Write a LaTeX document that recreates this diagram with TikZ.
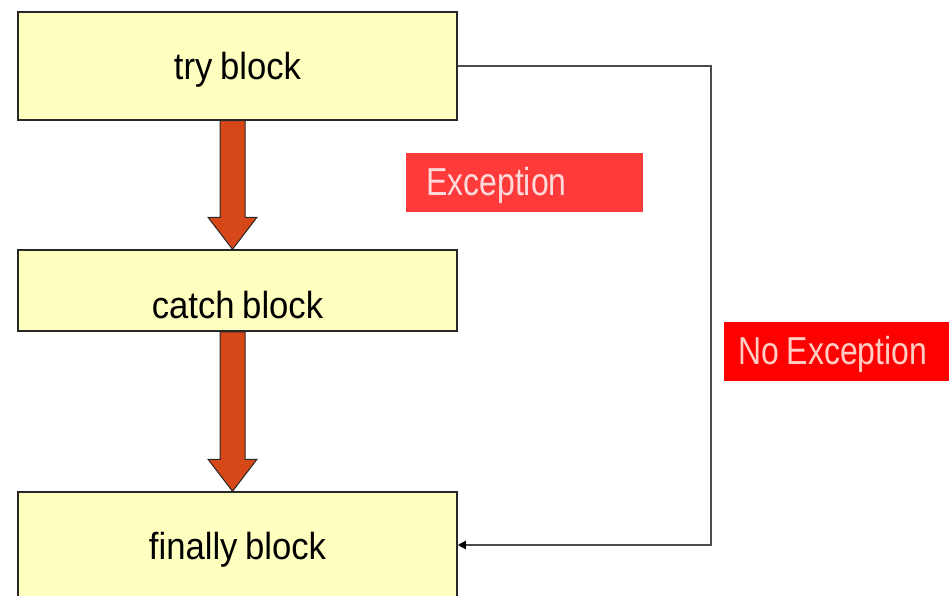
\documentclass[tikz,border=0pt]{standalone}
\usepackage{fontspec}
\setmainfont{Liberation Sans}
\newfontfamily\blockfont{Liberation Sans}[FakeStretch=0.92]
\newfontfamily\tagfont{Liberation Sans}[FakeStretch=0.82]
\usetikzlibrary{positioning,arrows.meta,calc}
\definecolor{BlockYellow}{RGB}{255,255,192}
\definecolor{BlockEdge}{RGB}{40,40,40}
\definecolor{ArrowRust}{RGB}{214,72,24}
\definecolor{FlowGray}{RGB}{75,75,75}
\definecolor{ExcRed}{RGB}{255,58,58}
\definecolor{NoExcRed}{RGB}{255,0,0}
\definecolor{ExcText}{RGB}{255,218,218}
\definecolor{NoExcText}{RGB}{255,205,195}
\newcommand{\blocktext}{\blockfont\fontsize{37.7}{40}\selectfont\spaceskip 0.2em\relax}
\newcommand{\tagtext}{\tagfont\fontsize{39}{42}\selectfont}
\tikzset{
  box/.style={draw=BlockEdge,fill=BlockYellow,line width=1.5pt,
    minimum width=439pt,inner sep=0pt,text height=28pt,text depth=0pt,
    font=\blocktext},
  fatarrow/.style={draw=BlockEdge,fill=ArrowRust,line width=1pt,line join=miter},
  flow/.style={-{Triangle[length=8pt,width=8pt,color=black]},line width=2.2pt,draw=FlowGray},
  tag/.style={anchor=west,minimum height=59pt,inner ysep=0pt,align=left,
    text height=25pt,text depth=0pt,font=\tagtext,
    execute at begin node={\spaceskip 0.2em\relax}}
}
\newcommand{\fatarrow}[2]{%
  \draw[fatarrow] ($(#1.south)+(-17.5,0)$) -- ($(#2.north)+(-17.5,-32)$)
    -- ($(#2.north)+(-29.5,-32)$) -- ($(#2.north)+(-5,0)$)
    -- ($(#2.north)+(19.5,-32)$) -- ($(#2.north)+(7.5,-32)$)
    -- ($(#1.south)+(7.5,0)$) -- cycle;}

\begin{document}
\begin{tikzpicture}[x=1pt,y=-1pt]
  \useasboundingbox (0,0) rectangle (949,596);
  % the three blocks
  \node[box,minimum height=108pt] (try) at (237.5,66) {try block};
  \node[box,minimum height=81pt,text height=55pt] (catch) at (237.5,290.5) {catch block};
  \node[box,minimum height=106pt] (finally) at (237.5,545) {finally block};
  % labels
  \node[tag,fill=ExcRed,text=ExcText,inner xsep=20pt,text width=197pt] (exc) at (406,182.5) {Exception};
  \node[tag,fill=NoExcRed,text=NoExcText,inner xsep=14pt,text width=199pt] (noexc) at (724,351.5) {No Exception};
  % connectors
  \fatarrow{try}{catch}
  \fatarrow{catch}{finally}
  \draw[flow] (try.east) -- ++(253,0) |- (finally.east);
\end{tikzpicture}
\end{document}
